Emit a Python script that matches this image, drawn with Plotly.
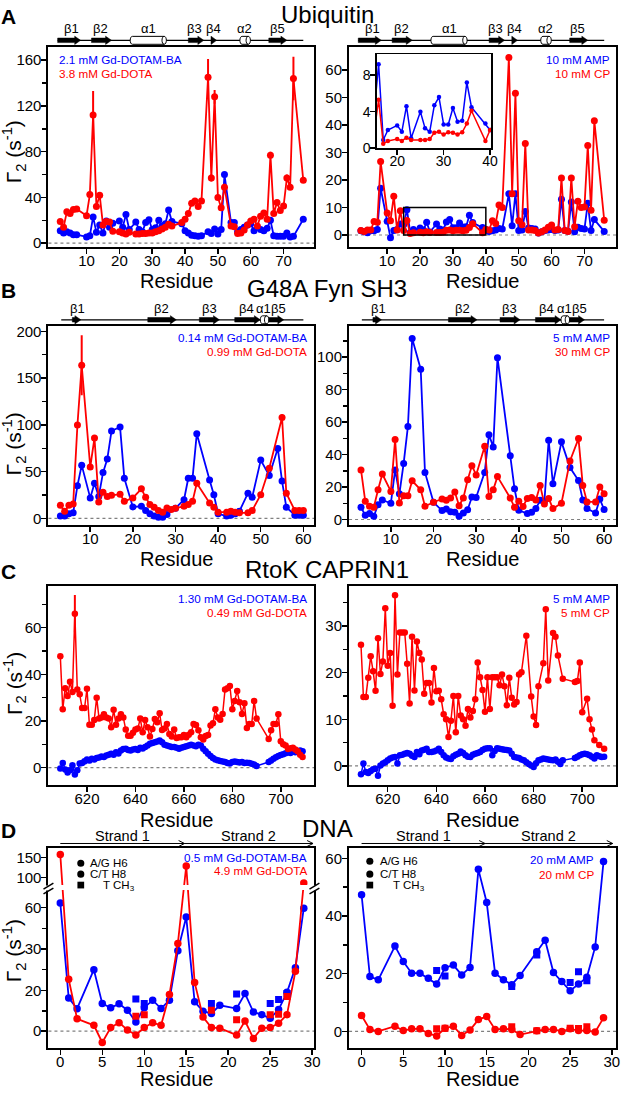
import plotly.graph_objects as go
import numpy as np

W, H = 627, 1097
FONT = "Liberation Sans, Arial, Helvetica, sans-serif"
BLUE = "#0000ff"
RED = "#ff0000"

# ================= DATA =================
# ---- Panel A: Ubiquitin ----
ubq_res_gd = [2, 3, 4, 5, 6, 7, 10, 11, 12, 13, 14, 15, 16, 17, 18, 20, 21, 22, 23, 25, 26, 27, 28, 29, 30,
              31, 32, 33, 34, 35, 36, 39, 40, 41, 42, 43, 44, 45, 47, 48, 49, 50, 51, 52, 54, 55, 56, 57, 58,
              59, 60, 61, 62, 63, 64, 65, 66, 67, 68, 69, 70, 71, 72, 73, 76]
ubq_dotamba = [11, 9, 10, 9, 7.5, 7.5, 5.5, 6.5, 23, 9.5, 16, 9, 19.5, 14, 17.5, 19.5, 14, 25, 12,
               18.5, 12, 10, 18, 20.5, 12, 13.5, 20, 15, 17, 29, 19, 17, 11, 9, 7, 6.5, 6, 6.5,
               10, 8.5, 12.5, 8, 12, 60, 18, 18, 10, 12, 14, 16, 17, 11, 14, 12, 11, 13, 20, 6.5,
               6, 6, 6, 9, 5.5, 6, 21]
ubq_dota = [19, 14, 27.5, 26, 29.5, 30, 24, 42.5, 112, 32, 42, 16, 19, 18.5, 10.5, 10, 9, 8, 9.5,
            8, 8, 8.5, 8.5, 9, 9, 10, 11, 12.5, 14, 16.5, 15, 18, 21, 26, 35, 37, 32, 37,
            145, 57, 128, 40, 31, 49, 15, 14.5, 8.5, 9, 11.5, 16, 19.5, 21, 15, 23.5, 26.5, 21, 77,
            26, 35.5, 28.5, 32.5, 57, 49, 144, 55]
ubq_dota_err = [1.5, 1.5, 1.5, 1.5, 1.5, 1.5, 1.5, 3, 21, 1.5, 2, 1.5, 1.5, 1.5, 1.5, 1.5, 1.5, 1.5, 1.5,
                1.5, 1.5, 1.5, 1.5, 1.5, 1.5, 1.5, 1.5, 1.5, 1.5, 1.5, 1.5, 1.5, 1.5, 1.5, 1.5, 1.5, 1.5, 1.5,
                16, 3, 6, 2, 1.5, 3, 1.5, 1.5, 1.5, 1.5, 1.5, 1.5, 1.5, 1.5, 1.5, 1.5, 1.5, 1.5, 3,
                1.5, 2, 1.5, 2, 3, 2.5, 19, 2]

ubq_res_cos = [2, 3, 4, 5, 6, 7, 8, 10, 11, 12, 13, 14, 15, 16, 17, 18, 20, 21, 22, 23, 25, 26, 27, 28, 29,
               30, 31, 32, 33, 34, 35, 36, 39, 40, 41, 42, 43, 44, 45, 47, 48, 49, 50, 51, 52, 53, 54, 55,
               56, 57, 58, 59, 60, 61, 62, 63, 64, 65, 66, 67, 68, 69, 70, 71, 72, 73, 76]
ubq_amp = [1.5, 1.2, 0.8, 1.5, 1.5, 2, 17, 5, -1, 1.6, 2, 4, 3.7, 9.2, 0.9, 2.0, 2.5, 1.8, 4.6, 1.1,
           4.0, 2.2, 1.8, 4.7, 5.6, 2.6, 2.6, 4.4, 2.9, 3.0, 7.2, 4.5, 2.7, 2.0, 1.3, 1.5, 1.8, 2.4, 2.2,
           15, 3.4, 15, 1.6, 1.8, 8.5, 2.5, 2.4, 2.2, 0.7, 1.2, 1.6, 1.8, 2, 1.6, 1.8, 13, 1.6, 1.4, 12,
           1.2, 2.8, 2.4, 2.2, 11.5, 1.6, 5.6, 1.3]
ubq_cp = [1.6, 1.3, 1.8, 1.8, 4.9, 4.6, 26.7, 8, 5.2, 14.1, 1.8, 8.8, 1.6, 5.3, 0.5, 0.8, 1.0, 0.8, 1.15, 0.9,
          0.9, 0.9, 1.0, 1.7, 1.8, 1.5, 1.75, 1.7, 1.5, 1.75, 2.7, 4.1, 0.8, 2.0, 1.8, 5.2, 4.2, 10.9, 10,
          64.5, 15, 51.5, 5.2, 3.7, 33.3, 1.8, 1.8, 1.6, 0.7, 1.2, 1.8, 2.8, 3.6, 1.8, 2, 20.7, 1.6, 1.3, 20.7,
          3, 12.3, 10, 10.2, 32.5, 9, 41.5, 5.4]

# secondary structure: (label, type, start, end, label position)
ubq_ss = [("β1", "E", 1.2, 8.2, 5.4), ("β2", "E", 11.5, 17.6, 14.4), ("α1", "H", 23.3, 34.3, 28.9),
          ("β3", "E", 41.0, 45.7, 43.0), ("β4", "E", 47.9, 49.6, 48.8), ("α2", "H", 56.7, 59.9, 58.1),
          ("β5", "E", 65.5, 71.0, 68.0)]
ubq_backbone = (1.2, 76.0)

# ---- Panel B: G48A Fyn SH3 ----
fyn_res = [3, 4, 5, 6, 7, 8, 10, 11, 12, 13, 14, 15, 17, 18, 20, 22, 23, 24, 25, 26, 27, 28, 29, 30,
           32, 33, 34, 35, 38, 39, 40, 41, 42, 43, 44, 45, 46, 47, 48, 50, 52, 54, 55, 56, 58, 59, 60]
fyn_dotamba = [2.5, 2.5, 5, 6, 35, 57, 22, 37.7, 23.6, 49, 63.5, 93.5, 97.7, 43, 12.3, 13, 8.5, 5, 2.5,
               1.4, 1.4, 4.2, None, 11, 20, 43, 43, 90.6, 41, 25.4, 5, None, 2.5, 3.5, 5, 7.8, None,
               27, 22.6, 62.4, 45.9, 74.8, 40, 12, 3.5, 3.5, 3.5]
fyn_dota = [14, 7.8, 14, 15.5, 100, 163.7, 55, 86, 17.6, 28, 23.6, 24.7, 26, 18.3, 22, 31.7, 22.6, 14.8,
            12, 8.5, 6.7, 11.3, 9.5, 11, 13, 14.8, 18.3, 37.7, 16.6, 12, 6.7, None, 6.7, 7.8, 6.7, 6,
            None, 6, 8.5, 25.4, 53.6, None, 108, 27, 8.5, 8.5, 8.5]
fyn_dota_err = [1.5, 1.5, 1.5, 1.5, 3, 32, 2, 3, 1.5, 1.5, 1.5, 1.5, 1.5, 1.5, 1.5, 1.5, 1.5, 1.5,
                1.5, 1.5, 1.5, 1.5, 1.5, 1.5, 1.5, 1.5, 1.5, 2, 1.5, 1.5, 1.5, 0, 1.5, 1.5, 1.5, 1.5,
                0, 1.5, 1.5, 1.5, 2, 0, 3, 1.5, 1.5, 1.5, 1.5]
fyn_amp = [7.5, 2.6, 3.7, 2, 9, 12, 10, 30.5, 15.8, 34.5, 57.3, 111.4, 92.5, 29, 10.6, 5.5, 6.5, 4.7,
           4.5, 2, 4, 6, 13.8, 13.6, 29, 52.2, 44.7, 99.6, 39.2, 18.9, 5.7, None, 3.7, 4.5, 6.7, 11.8,
           11, 48.8, 22, 47.8, 32, 24, 12, 6.7, 4, 12.6, 6.1]
fyn_cp = [30.5, 11.2, 8.1, 7.5, 18.3, 28, 17.3, 49.2, 10.2, 14.6, 14.6, 23.8, 18.3, 8.1, 10.6, 12.6, 11.8,
          13.2, 16.9, 8.5, 13.2, 24.4, 33.1, 27.4, 45.1, 14.2, 18.3, 26.4, 13.2, 7.5, 11.2, 8, 13, 13.6,
          12, 21, 9.5, 13, 6.7, 10, 36, 49.8, 21, 10.8, 10.8, 20, 15.8]
fyn_ss = [("β1", "E", 5.8, 7.8, 7.0), ("β2", "E", 23.5, 30.2, 26.8), ("β3", "E", 35.6, 40.3, 37.9),
          ("β4", "E", 43.9, 49.9, 46.6), ("α1", "H", 49.9, 51.9, 50.6), ("β5", "E", 51.9, 55.4, 54.2)]
fyn_backbone = (3.2, 60.0)

# ---- Panel C: RtoK CAPRIN1 (residues 609-709) ----
cap_res = list(range(609, 710))
cap_dotamba = [-0.4, 2, -0.8, -2.1, -1.1, 1, -3, -1.1, 1.7, 2, 2.7, 3.5, 3, 3.8, 3.5, 4.1, 4.3, 4.8, 4.5, 5.2,
               5.5, 5.9, 5.5, 6.6, 6, 7.3, 8, 8.1, 7.5, 7.3, 7.8, 8, 7.5, 8.5, 8.2, 8.8, 9.5, 10.2, 10.5, 10.9,
               11.2, 11.6, 10.9, 9.8, 9.5, 9.2, 8.8, 8.8, 8.5, 8.1, 8.5, 8.8, 9.2, 9.5, 9.8, 9.5, 9.2, 9.8, 9.5,
               8.1, 7, 5.9, 5, 4.1, 3.5, 3.1, 2.8, 2.6, 2.4, 2, 1.7, 2.4, 2.6, 2.4, 2.2, 2.4, 2, 2.1, 2, 1.6,
               1.3, 0.7, None, None, None, None, 2.4, 3, 3.8, 4.4, 5, 5.4, 5.7, 6.2, 6.6, 6.3, 7, 6.6, 6.8,
               7.3, 7]
cap_dota = [47.7, 25, 34, 30.7, 36.8, 32.4, 66, 33.5, 31.4, 25.5, 25.5, 33.8, 18.4, 18.4, 20.4, 30, 21, 21.5,
            22.9, 21.5, 21, 17.3, 24.8, 18.4, 21, 22.9, 21.5, 16.3, 13.7, 13.7, 14.9, 16.3, 16.8, 21, 15.1,
            20.4, 17.3, 13.3, 16.6, 20.8, 19.4, 23.3, 16.1, 16.8, 18.7, 14.4, 13.3, 16.3, 12.7, 13, 13, 14,
            13, 14.1, 15.1, 18.7, 18.3,
            16, 13, 12, 13.5, 14, 18, 19, 25, 21.5, 20.5, 23, 33.5, 34, 35, 25, 28.6, 32.8, 28, 23, 27.6, 17,
            18.7, 18.7, 28.6, 21, None, None, None, None, 12.3, 16, 18.7, 18.7, 22.9, 11.3, 10, 9.5, 8,
            8.3, 8.5, 7.8, 7, 5.5, 4.5]
cap_dota_err = [8 if r == 615 else 1 for r in cap_res]
cap_amp = [-1.8, 0.5, -1.3, -1.5, -1.1, -0.7, -0.6, -2.1, 0.1, 0.5, 0.8, 1.2, 1.6, 1.8, 1.9, 0.5, 2.3, 2.4,
           2.6, 2.8, 2.6, 2.2, 1.9, 3, 2.5, 3.3, 3.5, 3.7, 3, 3, 3.1, 3.3, 3.7, 3, 2.3, 1.8, 1.6, 1.5, 2.1,
           2.4, 2.6, 3.1, 2.8, 2.3, 2, 1.9, 2.4, 2.6, 2.8, 3, 3.4, 3.7, 3.8, 3.8, 2.3, 3.2,
           3.8, 3.7, 3.6, 3.5, 3.4, 3.3, 2.6, 1.9, 1.8, 1.7, 1.4, 1.2, 0.8, 0.4, 0.1, -0.2, 0.6, 1.2, 1.4,
           1.6, 1.5, 1.4, 1.3, 1.2, 1.4, 0.9, 0.4, 1.2, None, None, None, None, 1.7, 2, 2.3, 2.5, 2.6,
           2.5, 2.3, 2, 1.6, 2.3, 2.1, 1.9, 2]
cap_cp = [26, 14.8, 14.8, 18.9, 23.5, 20.3, 16.1, 27.4, 19.7, 22.4, 33.8, 21.5, 24.2, 12.9, 36.6, 19.6,
          28.6, 28.6, 28.6, 21.9, 13.4, 27.7, 16.2, 26.7, 24.2, 22.8, 15.5, 17.8, 17.8, 13.6, 21, 16, 16.1,
          14.3, 11.1, 10, 6.2, 9.7, 15, 7.2, 15, 10.8, 10, 8.6, 12.2, 10.4, 11.8, 14.3, 22.2, 19, 16.3, 11.6,
          19, 12.2, 19, 19, 19, 17.3,
          19.6, 17.1, 13, 18.9, 14.6, 13.2, 13.7, 19.6, 20.1, None, 27.9, None, 14.9, 10.6, 8.8, 17.1, None,
          22, 33.6, 18.3, None, 28.5, 27.7, 23.7, None, 18.7, None, None, None, None, 18, 18.2, 22.2, 11.5,
          None, 14.4, 10, 7.8, 5.5, None, 4.5, None, 3.7]

# ---- Panel D: DNA ----
dna_res = [0, 1, 2, 4, 5, 6, 7, 8, 9, 10, 11, 12, 13, 14, 15, 16, 17, 18, 19, 21, 22, 23, 24, 25, 26, 27, 28, 29]
dna_dotamba = [63.3, 16.3, 11, 25, 13.5, 11.5, 13.4, 10.3, 4.5, 11.5, 15.2, 11.1, 15.2, 29.6, 53.1, 14.4,
               9.8, 8.7, 12.7, 11.1, 18.4, 9.4, 8.1, 6.3, 10.6, 19, 25.5, 59.5]
dna_dota = [158, 22.7, 6.1, 2.9, -5.5, 1.8, 4.2, 0.6, -1.8, 1.8, 4.2, 2.9, 17.9, 34, 129, 21.9, 6.9, 1.8,
            1.5, -1.9, 5, -3.5, 1.5, 1.8, 3.9, 8.1, 24.6, 86]
dna_me_res = [9, 10, 18, 21, 25, 26, 27]
dna_me_dotamba = [15.8, 13.5, 13.5, 18.2, 13.5, 15.5, 18.5]
dna_me_dota = [7.3, 8.1, 10.2, 5.6, 8.1, 8.3, 17]
dna_amp = [47.4, 19, 17.9, 29.6, 24.2, 20.2, 20.2, 18.4, 16.4, 22.1, 23, 19.6, 22.2, 56.2, 44.7, 20.2, 17.9,
           16.2, 19.4, 27.6, 31.6, 20.4, 17.3, 14.1, 16.4, 18.8, 29.3, 58.9]
dna_cp = [5.5, 0.7, 0, 1.8, 0.3, 0.9, 0.9, -0.7, -1.6, 1.1, 1.8, -1.4, 0.5, 4.1, 5.2, 0.7, 0.9, 0.7, -1.1,
          0.2, 0.7, 0.7, 0, 0.9, 0.3, 0.3, -0.2, 4.7]
dna_me_amp = [21.1, 19.2, 15.6, 26.5, 17, 20.7, 17.6]
dna_me_cp = [0.9, 1.1, 1.6, 0.2, 1.1, 1.0, 1.6]
dna_strands = [("Strand 1", 0, 14.8), ("Strand 2", 14.8, 30.1)]

# broken y axis of the DNA (Gd) panel: value -> display position
BRK_V = [-20, 0, 20, 30, 60, 69, 78, 100, 150, 200]
BRK_T = [-20, 0, 20, 40.16, 60.48, 66.6, 70.9, 75.16, 84.84, 94.5]


def brk(vals):
    return [float(np.interp(v, BRK_V, BRK_T)) for v in vals]


# ================= FIGURE =================
fig = go.Figure()
shapes, annotations = [], []


def pxx(x):
    return x / W


def pxy(y):
    return 1 - y / H


def series(x, y, color, xa, ya, size=7, lw=1.8, err=None, symbol="circle", mode="lines+markers"):
    tr = go.Scatter(x=x, y=y, mode=mode, xaxis=xa, yaxis=ya, connectgaps=True,
                    line=dict(color=color, width=lw),
                    marker=dict(color=color, size=size, symbol=symbol, line=dict(width=0)),
                    hoverinfo="skip", showlegend=False)
    if err is not None:
        tr.update(error_y=dict(type="data", array=err, visible=True, color=color, thickness=2, width=0))
    return tr


# panel boxes in pixels: (x0, x1, y0, y1)
BOX = {
    "AL": (49, 318, 44, 246), "AR": (353, 623, 44, 246), "IN": (381, 497, 51.7, 146.7),
    "BL": (49, 318, 326, 527.3), "BR": (353, 623, 326, 527.3),
    "CL": (49, 318, 589.3, 790), "CR": (353, 623, 589.3, 790),
    "DL": (49, 318, 853.3, 1056), "DR": (353, 623, 853.3, 1056),
}
AX = {"AL": "", "AR": "2", "IN": "3", "BL": "4", "BR": "5", "CL": "6", "CR": "7", "DL": "8", "DR": "9"}
XR = {"AL": [-1.6, 79.4], "AR": [-1.6, 79.6], "IN": [15.6, 40.3], "BL": [0.2, 62.6], "BR": [0.2, 62.8],
      "CL": [604.1, 713.9], "CR": [604.1, 713.9], "DL": [-1.41, 30.27], "DR": [-1.5, 30.5]}

# traces
fig.add_trace(series(ubq_res_gd, ubq_dotamba, BLUE, "x", "y"))
fig.add_trace(series(ubq_res_gd, ubq_dota, RED, "x", "y", err=ubq_dota_err))
fig.add_trace(series(ubq_res_cos, ubq_amp, BLUE, "x2", "y2"))
fig.add_trace(series(ubq_res_cos, ubq_cp, RED, "x2", "y2"))
fig.add_trace(series(ubq_res_cos, ubq_amp, BLUE, "x3", "y3", size=4.5, lw=1.5))
fig.add_trace(series(ubq_res_cos, ubq_cp, RED, "x3", "y3", size=4.5, lw=1.5))

fig.add_trace(series(fyn_res, fyn_dotamba, BLUE, "x4", "y4"))
fig.add_trace(series(fyn_res, fyn_dota, RED, "x4", "y4", err=fyn_dota_err))
fig.add_trace(series(fyn_res, fyn_amp, BLUE, "x5", "y5"))
fig.add_trace(series(fyn_res, fyn_cp, RED, "x5", "y5"))

fig.add_trace(series(cap_res, cap_dotamba, BLUE, "x6", "y6", size=6.5, lw=1.5))
fig.add_trace(series(cap_res, cap_dota, RED, "x6", "y6", size=6.5, lw=1.5, err=cap_dota_err))
fig.add_trace(series(cap_res, cap_amp, BLUE, "x7", "y7", size=6.5, lw=1.5))
fig.add_trace(series(cap_res, cap_cp, RED, "x7", "y7", size=6.5, lw=1.5))

fig.add_trace(series(dna_res, brk(dna_dotamba), BLUE, "x8", "y8", size=7.5))
fig.add_trace(series(dna_res, brk(dna_dota), RED, "x8", "y8", size=7.5))
fig.add_trace(series(dna_me_res, brk(dna_me_dotamba), BLUE, "x8", "y8", size=7, symbol="square", mode="markers"))
fig.add_trace(series(dna_me_res, brk(dna_me_dota), RED, "x8", "y8", size=7, symbol="square", mode="markers"))
fig.add_trace(series(dna_res, dna_amp, BLUE, "x9", "y9", size=7.5))
fig.add_trace(series(dna_res, dna_cp, RED, "x9", "y9", size=7.5))
fig.add_trace(series(dna_me_res, dna_me_amp, BLUE, "x9", "y9", size=7, symbol="square", mode="markers"))
fig.add_trace(series(dna_me_res, dna_me_cp, RED, "x9", "y9", size=7, symbol="square", mode="markers"))

# axes
layout = dict(width=W, height=H, margin=dict(l=0, r=0, t=0, b=0), paper_bgcolor="white",
              plot_bgcolor="white", showlegend=False, font=dict(family=FONT, color="black"))


def axbase(size=15, lw=2, standoff=0):
    return dict(showline=True, linecolor="black", linewidth=lw, mirror=True, ticks="outside", ticklen=5,
                tickwidth=1.5, tickcolor="black", showgrid=False, zeroline=False, fixedrange=True,
                ticklabelstandoff=standoff,
                tickfont=dict(size=size, color="black", family=FONT))


def minor(vals):
    return dict(tickmode="array", tickvals=vals, ticks="outside", ticklen=4, tickwidth=1.5,
                tickcolor="black", showgrid=False)


YCFG = {
    "AL": dict(range=[-2.9, 171.9], tickvals=[0, 40, 80, 120, 160], minor=minor([20, 60, 100, 140])),
    "AR": dict(range=[-4.2, 68.5], tickvals=[0, 10, 20, 30, 40, 50, 60]),
    "IN": dict(range=[0, 10.3], tickvals=[0, 4, 8]),
    "BL": dict(range=[-7, 206], tickvals=[0, 50, 100, 150, 200], minor=minor([25, 75, 125, 175])),
    "BR": dict(range=[-3.4, 119.3], tickvals=[0, 20, 40, 60, 80, 100], minor=minor([10, 30, 50, 70, 90, 110])),
    "CL": dict(range=[-7.5, 77.7], tickvals=[0, 20, 40, 60], minor=minor([10, 30, 50, 70])),
    "CR": dict(range=[-4.1, 38.5], tickvals=[0, 10, 20, 30], minor=minor([5, 15, 25, 35])),
    "DL": dict(range=[-8.4, 89.7], tickvals=brk([0, 20, 30, 60, 100, 150]),
               ticktext=["0", "20", "30", "60", "100", "150"], minor=minor(brk([10, 25, 45]))),
    "DR": dict(range=[-5.9, 63.7], tickvals=[0, 20, 40, 60], minor=minor([10, 30, 50])),
}
XT = {"AL": [10, 20, 30, 40, 50, 60, 70], "AR": [10, 20, 30, 40, 50, 60, 70], "IN": [20, 30, 40],
      "BL": [10, 20, 30, 40, 50, 60], "BR": [10, 20, 30, 40, 50, 60],
      "CL": [620, 640, 660, 680, 700], "CR": [620, 640, 660, 680, 700],
      "DL": [0, 5, 10, 15, 20, 25, 30], "DR": [0, 5, 10, 15, 20, 25, 30]}

PPU = {}
for k, (x0, x1, y0, y1) in BOX.items():
    s = AX[k]
    size = 14 if k == "IN" else 15
    lw = 1.5 if k == "IN" else 2
    xa = axbase(size, lw, standoff=-6)
    xa.update(domain=[pxx(x0), pxx(x1)], range=XR[k], tickmode="array", tickvals=XT[k], anchor="y" + s)
    ya = axbase(size, lw, standoff=-3)
    yc = dict(YCFG[k])
    ya.update(domain=[pxy(y1), pxy(y0)], anchor="x" + s, tickmode="array", **yc)
    layout["xaxis" + s] = xa
    layout["yaxis" + s] = ya
    PPU[k] = (x1 - x0) / (XR[k][1] - XR[k][0])

# inset background and zoom box
shapes.append(dict(type="rect", xref="x3 domain", yref="y3 domain", x0=0, x1=1, y0=0, y1=1,
                   fillcolor="white", line=dict(width=0), layer="below"))
shapes.append(dict(type="rect", xref="x2", yref="y2", x0=XR["IN"][0] - 0.6, x1=40, y0=0, y1=10,
                   line=dict(color="black", width=1.5), layer="above"))

# zero dotted lines
for k in ["AL", "AR", "BL", "BR", "CL", "CR", "DL", "DR"]:
    s = AX[k]
    shapes.append(dict(type="line", xref="x%s domain" % s, yref="y" + s, x0=0, x1=1, y0=0, y1=0,
                       line=dict(color="#808080", width=1.2, dash="dot"), layer="below"))


def ptxt(x, y, s, size, color="black", xanchor="center", yanchor="middle", angle=0):
    annotations.append(dict(x=pxx(x), y=pxy(y), xref="paper", yref="paper", text=s, showarrow=False,
                            font=dict(size=size, color=color, family=FONT), xanchor=xanchor,
                            yanchor=yanchor, textangle=angle, borderpad=0))


def ss_diagram(k, ss, backbone, y_line, y_lab):
    s = AX[k]
    xa = "x" + s
    ppu = PPU[k]
    yc = pxy(y_line)
    shapes.append(dict(type="line", xref=xa, yref="paper", x0=backbone[0], x1=backbone[1], y0=yc, y1=yc,
                       line=dict(color="black", width=1.2)))
    for name, kind, a, b, lx in ss:
        if kind == "E":
            hl = 6 / ppu
            bh, hh = 2.3 / H, 4.2 / H
            xb = max(a, b - hl)
            path = (f"M {a},{yc - bh} L {xb},{yc - bh} L {xb},{yc - hh} L {b},{yc} L {xb},{yc + hh} "
                    f"L {xb},{yc + bh} L {a},{yc + bh} Z")
            shapes.append(dict(type="path", xref=xa, yref="paper", path=path, fillcolor="black",
                               line=dict(color="black", width=0.5)))
        else:
            hh = 4 / H
            r = 2.2 / ppu
            yb, yt = yc - hh, yc + hh
            c = 1.333 * r
            path = (f"M {a + r},{yb} L {b - r},{yb} C {b - r + c},{yb} {b - r + c},{yt} {b - r},{yt} "
                    f"L {a + r},{yt} C {a + r - c},{yt} {a + r - c},{yb} {a + r},{yb} Z")
            shapes.append(dict(type="path", xref=xa, yref="paper", path=path, fillcolor="white",
                               line=dict(color="black", width=1)))
            path2 = f"M {b - r},{yb} C {b - r - c},{yb} {b - r - c},{yt} {b - r},{yt}"
            shapes.append(dict(type="path", xref=xa, yref="paper", path=path2,
                               line=dict(color="black", width=1)))
        annotations.append(dict(x=lx, y=pxy(y_lab), xref=xa, yref="paper", text=name, showarrow=False,
                                font=dict(size=13, color="black", family=FONT), xanchor="center",
                                yanchor="middle", borderpad=0))


ss_diagram("AL", ubq_ss, ubq_backbone, 37.7, 26)
ss_diagram("AR", ubq_ss, ubq_backbone, 37.7, 26)
ss_diagram("BL", fyn_ss, fyn_backbone, 320, 309)
ss_diagram("BR", fyn_ss, fyn_backbone, 320, 309)


def strand_arrows(k, y_line, y_lab):
    s = AX[k]
    xa = "x" + s
    ppu = PPU[k]
    yc = pxy(y_line)
    for name, a, b in dna_strands:
        shapes.append(dict(type="line", xref=xa, yref="paper", x0=a, x1=b, y0=yc, y1=yc,
                           line=dict(color="black", width=1)))
        hl = 6 / ppu
        for dy in (3 / H, -3 / H):
            shapes.append(dict(type="line", xref=xa, yref="paper", x0=b - hl, x1=b, y0=yc + dy, y1=yc,
                               line=dict(color="black", width=1)))
        annotations.append(dict(x=(a + b) / 2, y=pxy(y_lab), xref=xa, yref="paper", text=name,
                                showarrow=False, font=dict(size=14.5, color="black", family=FONT),
                                xanchor="center", yanchor="middle", borderpad=0))


strand_arrows("DL", 849, 841.5)
strand_arrows("DR", 849, 841.5)

# axis break of the DNA Gd panel
shapes.append(dict(type="rect", xref="paper", yref="paper", x0=pxx(50.5), x1=pxx(316.5),
                   y0=pxy(896), y1=pxy(891), fillcolor="white", line=dict(width=0), layer="above"))
for xc in (49, 318):
    shapes.append(dict(type="rect", xref="paper", yref="paper", x0=pxx(xc - 3), x1=pxx(xc + 3),
                       y0=pxy(896.5), y1=pxy(891.5), fillcolor="white", line=dict(width=0), layer="above"))
    for yo in (0, 5):
        shapes.append(dict(type="line", xref="paper", yref="paper", x0=pxx(xc - 5), x1=pxx(xc + 5),
                           y0=pxy(895 + yo), y1=pxy(889 + yo), line=dict(color="black", width=1.5),
                           layer="above"))

# nucleotide symbol keys
for (mx, tx, tx3), ys in [((81.7, 90, 103), (869, 880, 891)), ((374, 383, 396), (867, 880, 891))]:
    for yy in ys[:2]:
        shapes.append(dict(type="circle", xref="paper", yref="paper", x0=pxx(mx - 3.6), x1=pxx(mx + 3.6),
                           y0=pxy(yy + 3.6), y1=pxy(yy - 3.6), fillcolor="black", line=dict(width=0),
                           layer="above"))
    shapes.append(dict(type="rect", xref="paper", yref="paper", x0=pxx(mx - 3.4), x1=pxx(mx + 3.4),
                       y0=pxy(ys[2] + 3.4), y1=pxy(ys[2] - 3.4), fillcolor="black", line=dict(width=0),
                       layer="above"))
    ptxt(tx, ys[0], "A/G H6", 11.5, xanchor="left")
    ptxt(tx, ys[1], "C/T H8", 11.5, xanchor="left")
    ptxt(tx3, ys[2] + 1, "T CH<sub>3</sub>", 11.5, xanchor="left")

# legends (text)
ptxt(59, 57, "2.1 mM Gd-DOTAM-BA", 11.7, BLUE, xanchor="left")
ptxt(59, 71, "3.8 mM Gd-DOTA", 11.7, RED, xanchor="left")
ptxt(618, 57, "10 mM AMP", 11.7, BLUE, xanchor="right")
ptxt(618, 71, "10 mM CP", 11.7, RED, xanchor="right")
ptxt(311, 338, "0.14 mM Gd-DOTAM-BA", 11.7, BLUE, xanchor="right")
ptxt(311, 352, "0.99 mM Gd-DOTA", 11.7, RED, xanchor="right")
ptxt(618, 338, "5 mM AMP", 11.7, BLUE, xanchor="right")
ptxt(618, 352, "30 mM CP", 11.7, RED, xanchor="right")
ptxt(311, 601.5, "1.30 mM Gd-DOTAM-BA", 11.7, BLUE, xanchor="right")
ptxt(311, 615.5, "0.49 mM Gd-DOTA", 11.7, RED, xanchor="right")
ptxt(618, 601.5, "5 mM AMP", 11.7, BLUE, xanchor="right")
ptxt(618, 615.5, "5 mM CP", 11.7, RED, xanchor="right")
ptxt(311, 863, "0.5 mM Gd-DOTAM-BA", 11.7, BLUE, xanchor="right")
ptxt(311, 876, "4.9 mM Gd-DOTA", 11.7, RED, xanchor="right")
ptxt(602, 865, "20 mM AMP", 11.7, BLUE, xanchor="right")
ptxt(602, 880, "20 mM CP", 11.7, RED, xanchor="right")

# titles, panel letters, axis titles
for letter, title, yy in [("A", "Ubiquitin", 13), ("B", "G48A Fyn SH3", 289), ("C", "RtoK CAPRIN1", 573),
                          ("D", "DNA", 835)]:
    ptxt(9, yy + 1, "<b>%s</b>" % letter, 21)
    ptxt(331, yy - 1, title, 24)

for yy in (281, 562, 825, 1087):
    ptxt(178, yy, "Residue", 20)
    ptxt(488, yy, "Residue", 20)

for yy in (150, 445, 687, 957):
    ptxt(14, yy, "Γ<sub>2</sub> (s<sup>-1</sup>)", 21, angle=-90)

layout["shapes"] = shapes
layout["annotations"] = annotations
fig.update_layout(**layout)
fig.write_html("out.html", config={"displayModeBar": False, "staticPlot": True},
               post_script="document.body.style.margin='0';document.body.style.padding='0';"
                           "document.body.style.overflow='hidden';")
